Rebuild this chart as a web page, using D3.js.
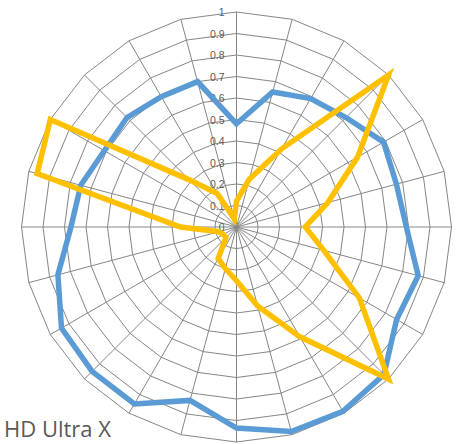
<!DOCTYPE html>
<html>
<head>
<meta charset="utf-8">
<script src="https://cdn.jsdelivr.net/npm/d3@7"></script>
<style>
  html, body { margin: 0; padding: 0; background: #ffffff; }
  svg { display: block; }
</style>
</head>
<body>
<svg id="chart" width="465" height="444"></svg>
<script>
// 24 categories around the radar, clockwise from the top
const categories = ["1","2","3","4","5","6","7","8","9","10","11","12",
                    "13","14","15","16","17","18","19","20","21","22","23","24"];

// Series values (0..1), one per category
const blueValues   = [0.48, 0.65, 0.69, 0.72, 0.79, 0.77, 0.79, 0.875, 0.86, 0.97, 0.99, 0.985,
                      0.935, 0.835, 0.95, 0.95, 0.94, 0.86, 0.77, 0.75, 0.71, 0.72, 0.70, 0.70];
const yellowValues = [0.12, 0.23, 0.42, 1.00, 0.65, 0.44, 0.32, 0.42, 0.66, 1.00, 0.59, 0.38,
                      0.25, 0.20, 0.17, 0.07, 0.07, 0.085, 0.26, 0.96, 1.00, 0.31, 0.18, 0.04];

const tickValues = [0, 0.1, 0.2, 0.3, 0.4, 0.5, 0.6, 0.7, 0.8, 0.9, 1];
const tickLabels = ["0", "0.1", "0.2", "0.3", "0.4", "0.5", "0.6", "0.7", "0.8", "0.9", "1"];

const seriesName = "HD Ultra X";

const cx = 236.5, cy = 227, R = 215;

const svg = d3.select("#chart");
const g = svg.append("g").attr("transform", `translate(${cx},${cy})`);

const rScale = d3.scaleLinear().domain([0, 1]).range([0, R]);
const aScale = d3.scaleLinear().domain([0, categories.length]).range([0, 2 * Math.PI]);

const idx = d3.range(categories.length);

// polygonal rings
const ringLine = v => d3.lineRadial()
  .angle(i => aScale(i))
  .radius(() => rScale(v))
  .curve(d3.curveLinearClosed);

g.append("g").selectAll("path")
  .data(tickValues.filter(v => v > 0))
  .join("path")
  .attr("d", v => ringLine(v)(idx))
  .attr("fill", "none")
  .attr("stroke", "#868686")
  .attr("stroke-width", 1);

// spokes
g.append("g").selectAll("line")
  .data(idx)
  .join("line")
  .attr("x1", 0).attr("y1", 0)
  .attr("x2", i => rScale(1) * Math.sin(aScale(i)))
  .attr("y2", i => -rScale(1) * Math.cos(aScale(i)))
  .attr("stroke", "#868686")
  .attr("stroke-width", 1);

// value axis labels
g.append("g").selectAll("text")
  .data(tickValues)
  .join("text")
  .attr("x", -12)
  .attr("y", v => -rScale(v))
  .attr("text-anchor", "end")
  .attr("dominant-baseline", "central")
  .attr("font-family", "'Liberation Sans', Arial, sans-serif")
  .attr("font-size", 10.5)
  .attr("fill", "#595959")
  .text((v, i) => tickLabels[i]);

// series
const seriesLine = d3.lineRadial()
  .angle((d, i) => aScale(i))
  .radius(d => rScale(d))
  .curve(d3.curveLinearClosed);

const series = [
  { values: blueValues, color: "#5B9BD5" },
  { values: yellowValues, color: "#FFC000" }
];

g.append("g").selectAll("path")
  .data(series)
  .join("path")
  .attr("d", s => seriesLine(s.values))
  .attr("fill", "none")
  .attr("stroke", s => s.color)
  .attr("stroke-width", 5.5)
  .attr("stroke-linejoin", "miter")
  .attr("stroke-miterlimit", 4);

// series name
svg.append("text")
  .attr("x", 4)
  .attr("y", 437)
  .attr("font-family", "'Open Sans', sans-serif")
  .attr("font-size", 22)
  .attr("fill", "#595959")
  .text(seriesName);
</script>
</body>
</html>
